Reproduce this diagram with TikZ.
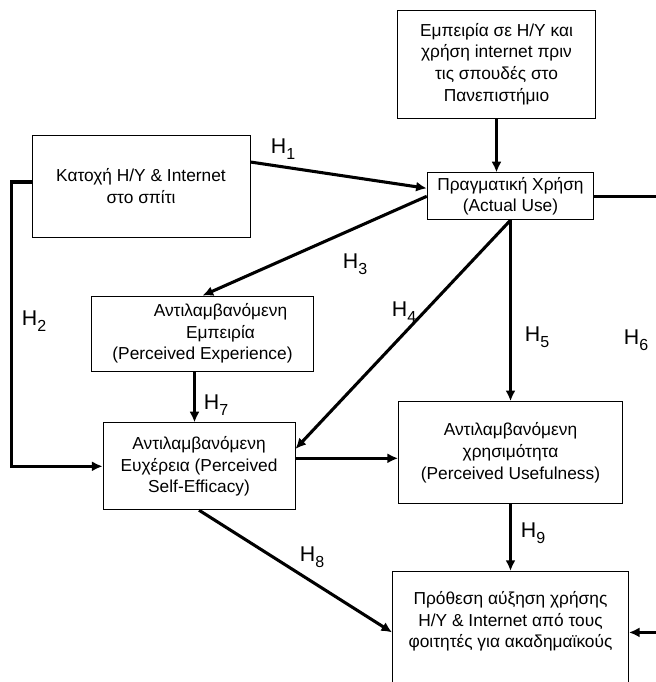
\documentclass[tikz,border=0pt]{standalone}
\usepackage{fontspec}
\setmainfont{Liberation Sans}
\usetikzlibrary{positioning}
\usetikzlibrary{arrows.meta}
\tikzset{
  box/.style = {shape=rectangle, draw, line width=0.6pt, align=center,
                font=\fontsize{13}{16.3}\selectfont, inner sep=2pt},
  arr/.style = {-{Latex[length=8pt,width=7.5pt]}, line width=2.3pt},
  hyp/.style = {font=\fontsize{16}{18}\selectfont, inner sep=0pt}
}
\newcommand{\hlab}[1]{H\raisebox{-0.3em}{\fontsize{12}{13}\selectfont #1}}

\begin{document}
\begin{tikzpicture}[x=0.75pt, y=-0.75pt]
  \useasboundingbox (0,0) rectangle (656,682);
  \node [box, minimum width=148pt, minimum height=81pt] (exp) at (496.5,64)
        {Εμπειρία σε H/Y και\\ χρήση internet πριν\\ τις σπουδές στο\\ Πανεπιστήμιο};
  \node [box, minimum width=125pt, minimum height=35.25pt] (use) [below=40.5pt of exp, xshift=10.5pt]
        {Πραγματική Χρήση\\ (Actual Use)};
  \node [box, minimum width=163.5pt, minimum height=76.5pt] (home) at (141,186)
        {Κατοχή H/Y \& Internet\\ στο σπίτι};
  \node [box, minimum width=166pt, minimum height=56.25pt] (pexp) at (202.5,333.5)
        {\hspace*{27pt}Αντιλαμβανόμενη\\ \hspace*{27pt}Εμπειρία\\ (Perceived Experience)};
  \node [box, minimum width=144pt, minimum height=65.25pt] (pse) [below=38.25pt of pexp, xshift=-2.6pt]
        {Αντιλαμβανόμενη\\ Ευχέρεια (Perceived\\ Self-Efficacy)};
  \node [box, minimum width=168pt, minimum height=76.5pt] (pu) [below=135.75pt of use]
        {Αντιλαμβανόμενη\\ χρησιμότητα\\ (Perceived Usefulness)};
  \node [box, minimum width=177pt, minimum height=91.5pt] (intent) [below=50.25pt of pu]
        {Πρόθεση αύξηση χρήσης\\ H/Y \& Internet από τους\\ φοιτητές για ακαδημαϊκούς\\[3pt]\mbox{}};
  \coordinate (edge) at (661,0);
  \coordinate (mid) at ([yshift=6pt]pse.east);

  \draw [arr] (exp.south) -- (exp.south |- use.north);
  \draw [arr] ([yshift=18pt]home.east) -- ([yshift=6pt]use.west);
  \draw [arr] ([yshift=3pt]home.west) -- ++(-20,0) |- (pse.west);
  \draw [arr] (use.west) -- (pexp.north);
  \draw [arr] (use.south) -- ([yshift=13pt]pse.east);
  \draw [arr] (use.south) -- (pu.north);
  \draw [arr] (use.east) -| (edge |- intent.east) -- (intent.east);
  \draw [arr] ([xshift=-6pt]pexp.south) -- ([xshift=-6pt]pexp.south |- pse.north);
  \draw [arr] (mid) -- (mid -| pu.west);
  \draw [arr] (pse.south) -- (intent.west);
  \draw [arr] (pu.south) -- (intent.north);

  \node [hyp] (h1) at (283,149) {\hlab{1}};
  \node [hyp] (h2) at (34,321) {\hlab{2}};
  \node [hyp] (h3) at (355,264) {\hlab{3}};
  \node [hyp] (h4) at (404,312) {\hlab{4}};
  \node [hyp] (h5) at (537,337) {\hlab{5}};
  \node [hyp] (h6) at (636,340) {\hlab{6}};
  \node [hyp] (h7) at (216,405) {\hlab{7}};
  \node [hyp] (h8) at (312,557) {\hlab{8}};
  \node [hyp] (h9) at (533,533) {\hlab{9}};
\end{tikzpicture}
\end{document}
